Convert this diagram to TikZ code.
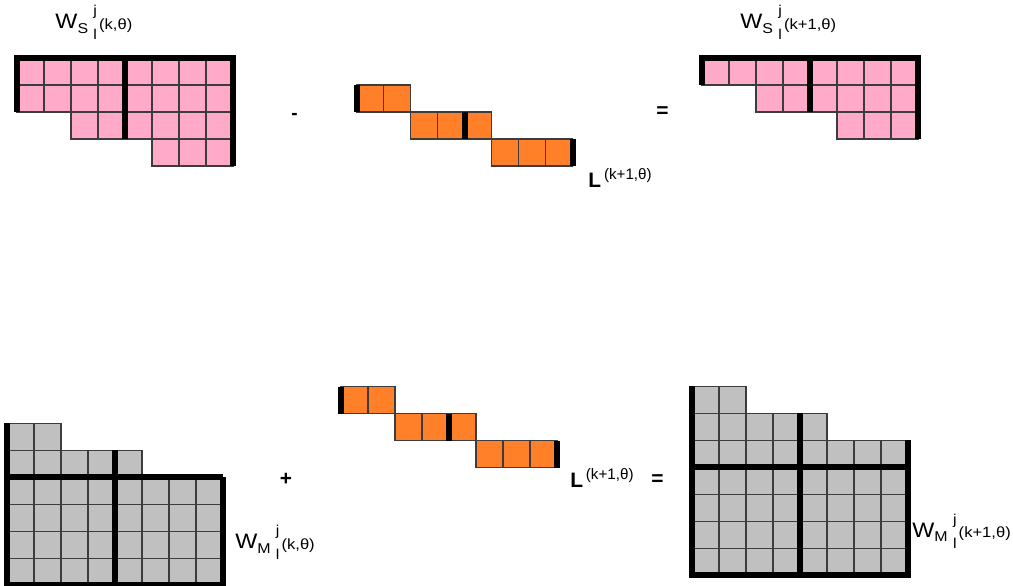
\documentclass[tikz,border=0pt]{standalone}
\usepackage{fontspec}
\setmainfont{Liberation Sans}
\usepackage{tikz}
\definecolor{wspink}{HTML}{FFAAC8}
\definecolor{lorange}{HTML}{FF8028}
\definecolor{wmgray}{HTML}{C0C0C0}
\definecolor{gridgray}{HTML}{3C3C3C}
% W with sub/superscripts: #1 = S or M, #2 = (k,theta) part
\newcommand{\wlbl}[2]{\scalebox{1.12}[1]{{\fontsize{11}{13}\selectfont W}\raisebox{-2.6pt}{\fontsize{7.5}{8}\selectfont #1}\hspace{2.5pt}\rlap{\raisebox{6.8pt}{\fontsize{7.5}{8}\selectfont j}}\raisebox{-5.8pt}{\fontsize{7.5}{8}\selectfont l}\hspace{1pt}\raisebox{-0.5pt}{\fontsize{7.8}{9}\selectfont #2}}}
\newcommand{\llbl}{{\fontsize{11}{13}\selectfont\bfseries L}\hspace{1.5pt}\raisebox{4.2pt}{\fontsize{8}{9}\selectfont (k+1,θ)}}

\begin{document}
\begin{tikzpicture}[x=0.5cm,y=0.5cm,
    cell/.style={draw=gridgray,line width=0.6pt},
    blk/.style={draw=black,line width=3pt},
    lbl/.style={inner sep=0pt,anchor=base west},
    op/.style={inner sep=0pt,font=\fontsize{11}{13}\selectfont\bfseries}
  ]
  \useasboundingbox (0,0) rectangle (37.52,-21.70);

  % W_S (k,theta)
  \begin{scope}[shift={(0.63,-2.15)}]
    \foreach \r/\a/\b in {0/0/7,1/0/7,2/2/7,3/5/7}
      \foreach \c in {\a,...,\b}
        \draw[cell,fill=wspink] (\c,-\r) rectangle ++(1,-1);
    \draw[blk] (0,-2) -- (0,0) -- (8,0) -- (8,-4);
    \draw[blk] (4,0) -- (4,-3);
  \end{scope}

  % L top
  \begin{scope}[shift={(13.22,-3.15)}]
    \foreach \r/\a/\b in {0/0/1,1/2/4,2/5/7}
      \foreach \c in {\a,...,\b}
        \draw[cell,fill=lorange] (\c,-\r) rectangle ++(1,-1);
    \draw[blk] (0,0) -- (0,-1);
    \draw[blk] (4,-1) -- (4,-2);
    \draw[blk] (8,-2) -- (8,-3);
  \end{scope}

  % W_S (k+1,theta)
  \begin{scope}[shift={(26.0,-2.15)}]
    \foreach \r/\a/\b in {0/0/7,1/2/7,2/5/7}
      \foreach \c in {\a,...,\b}
        \draw[cell,fill=wspink] (\c,-\r) rectangle ++(1,-1);
    \draw[blk] (0,-1) -- (0,0) -- (8,0) -- (8,-3);
    \draw[blk] (4,0) -- (4,-2);
  \end{scope}

  % W_M (k,theta)
  \begin{scope}[shift={(0.26,-15.67)}]
    \foreach \r/\a/\b in {0/0/1,1/0/4,2/0/7,3/0/7,4/0/7,5/0/7}
      \foreach \c in {\a,...,\b}
        \draw[cell,fill=wmgray] (\c,-\r) rectangle ++(1,-1);
    \draw[blk] (8,-2) -- (8,-6) -- (0,-6) -- (0,0);
    \draw[blk] (0,-2) -- (8,-2);
    \draw[blk] (4,-1) -- (4,-6);
  \end{scope}

  % L bottom
  \begin{scope}[shift={(12.63,-14.33)}]
    \foreach \r/\a/\b in {0/0/1,1/2/4,2/5/7}
      \foreach \c in {\a,...,\b}
        \draw[cell,fill=lorange] (\c,-\r) rectangle ++(1,-1);
    \draw[blk] (0,0) -- (0,-1);
    \draw[blk] (4,-1) -- (4,-2);
    \draw[blk] (8,-2) -- (8,-3);
  \end{scope}

  % W_M (k+1,theta)
  \begin{scope}[shift={(25.63,-14.30)}]
    \foreach \r/\a/\b in {0/0/1,1/0/4,2/0/7,3/0/7,4/0/7,5/0/7,6/0/7}
      \foreach \c in {\a,...,\b}
        \draw[cell,fill=wmgray] (\c,-\r) rectangle ++(1,-1);
    \draw[blk] (8,-2) -- (8,-7) -- (0,-7) -- (0,0);
    \draw[blk] (0,-3) -- (8,-3);
    \draw[blk] (4,-1) -- (4,-7);
  \end{scope}

  % labels
  \node[lbl] (wsk) at (2.04,-1.04) {\wlbl{S}{(k,θ)}};
  \node[lbl] (wsk1) at (27.41,-1.04) {\wlbl{S}{(k+1,θ)}};
  \node[lbl] (ltop) at (21.78,-6.93) {\llbl};
  \node[lbl] (lbot) at (21.11,-18.07) {\llbl};
  \node[lbl] (wmk) at (8.70,-20.33) {\wlbl{M}{(k,θ)}};
  \node[lbl] (wmk1) at (33.78,-19.89) {\wlbl{M}{(k+1,θ)}};

  % operators
  \node[op,anchor=base,font=\fontsize{10}{12}\selectfont\bfseries] (minus) at (10.91,-4.44) {-};
  \node[op] (eqtop) at (24.54,-4.15) {=};
  \node[op,font=\fontsize{11}{13}\selectfont\bfseries] (plus) at (10.59,-17.74) {+};
  \node[op] (eqbot) at (24.35,-17.78) {=};
\end{tikzpicture}
\end{document}
